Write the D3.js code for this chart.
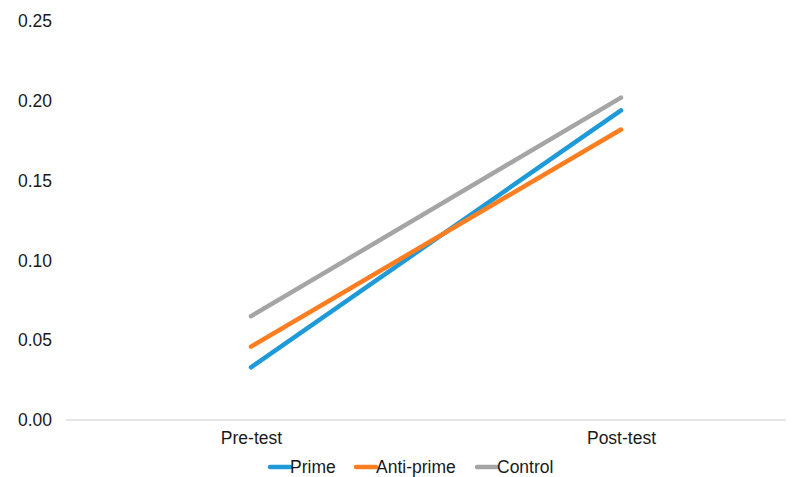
<!DOCTYPE html>
<html><head><meta charset="utf-8">
<script src="https://cdn.jsdelivr.net/npm/d3@7"></script>
<style>
body{margin:0;background:#fff;}
text{font-family:"Liberation Sans",Arial,sans-serif;fill:#1a1a1a;}
</style></head>
<body><svg id="c" width="793" height="477"></svg>
<script>
const categories = ["Pre-test", "Post-test"];
const seriesNames = ["Prime", "Anti-prime", "Control"];
const prime = [0.033, 0.194];
const antiPrime = [0.046, 0.182];
const control = [0.065, 0.202];
const yTicks = [0, 0.05, 0.10, 0.15, 0.20, 0.25];
const colors = ["#1f9ad8", "#fd7e21", "#a5a5a5"];

const svg = d3.select("#c");
const y = d3.scaleLinear().domain([0, 0.25]).range([420, 21]);
const x = d3.scalePoint().domain(categories).range([251, 621]);

svg.append("line").attr("x1", 66).attr("x2", 786).attr("y1", y(0)).attr("y2", y(0))
  .attr("stroke", "#dcdcdc").attr("stroke-width", 1.3);

const yAxis = svg.append("g").attr("transform", "translate(52,0)")
  .call(d3.axisLeft(y).tickValues(yTicks).tickFormat(d3.format(".2f")).tickSize(0).tickPadding(0));
yAxis.select(".domain").remove();
yAxis.selectAll("text").attr("font-size", "17.5px").attr("font-family", "Liberation Sans, Arial, sans-serif").attr("fill", "#1a1a1a");

const xAxis = svg.append("g").attr("transform", "translate(0,432)")
  .call(d3.axisBottom(x).tickSize(0).tickPadding(0));
xAxis.select(".domain").remove();
xAxis.selectAll("text").attr("font-size", "17.5px").attr("font-family", "Liberation Sans, Arial, sans-serif").attr("fill", "#1a1a1a").attr("dy", "0.71em");

const series = [prime, antiPrime, control];
const line = d3.line().x((d, i) => x(categories[i])).y(d => y(d));
series.forEach((s, i) => {
  svg.append("path").datum(s).attr("d", line).attr("fill", "none")
    .attr("stroke", colors[i]).attr("stroke-width", 4.5).attr("stroke-linecap", "round");
});

const legendX = [270, 356, 477];
seriesNames.forEach((n, i) => {
  const g = svg.append("g").attr("transform", `translate(${legendX[i]},467)`);
  g.append("line").attr("x1", 0).attr("x2", 20).attr("y1", 0).attr("y2", 0)
    .attr("stroke", colors[i]).attr("stroke-width", 4.5).attr("stroke-linecap", "round");
  g.append("text").attr("x", 20).attr("y", 0).attr("dy", "0.35em").attr("font-size", "17.5px").text(n);
});
</script></body></html>
